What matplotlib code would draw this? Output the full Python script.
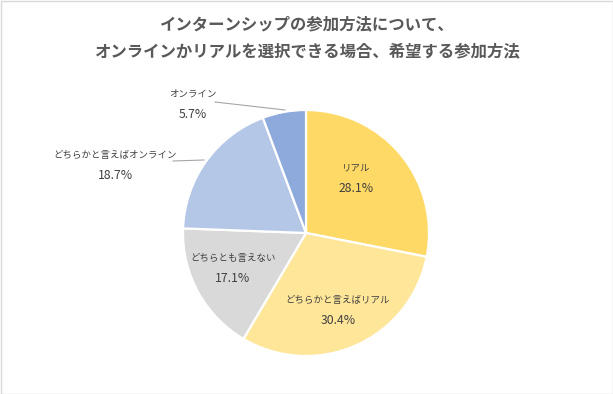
import matplotlib
matplotlib.use("Agg")
import matplotlib.pyplot as plt
from matplotlib.patches import Rectangle

plt.rcParams['font.family'] = ['Noto Sans CJK JP', 'DejaVu Sans']

# data
labels = ["リアル", "どちらかと言えばリアル", "どちらとも言えない", "どちらかと言えばオンライン", "オンライン"]
values = [28.1, 30.4, 17.1, 18.7, 5.7]
colors = ["#FFD966", "#FFE699", "#D9D9D9", "#B4C7E7", "#8EA9DB"]
title_lines = ["インターンシップの参加方法について、", "オンラインかリアルを選択できる場合、希望する参加方法"]

W, H = 613, 394
fig = plt.figure(figsize=(W / 100, H / 100), dpi=100)
ax = fig.add_axes([0, 0, 1, 1])

# pixel helper (y from top)
def py(y):
    return H - y

cx, cy, rad = 306, 233, 123
ax.pie(values, colors=colors, startangle=90, counterclock=False,
       center=(cx, py(cy)), radius=rad, frame=True,
       wedgeprops=dict(edgecolor="white", linewidth=1.6))
ax.set_xlim(0, W)
ax.set_ylim(0, H)
ax.axis("off")

# label positions (name, pct) in pixels
label_pos = [
    ((356, 168), (356, 188)),
    ((338, 300), (338, 320)),
    ((233, 258), (233, 278)),
    ((115, 155), (115, 175)),
    ((193, 94), (193, 114)),
]
txt_color = "#404040"
for lab, val, (p1, p2) in zip(labels, values, label_pos):
    ax.text(p1[0], py(p1[1]), lab, ha="center", va="center", fontsize=6.8, color=txt_color)
    ax.text(p2[0], py(p2[1]), f"{val:.1f}%", ha="center", va="center", fontsize=8.8, color=txt_color)

# leader lines for outside labels
ax.plot([173, 204], [py(161), py(160)], color="#A6A6A6", lw=0.8)
ax.plot([215, 285], [py(102), py(110)], color="#A6A6A6", lw=0.8)

# title
ax.text(W / 2, py(24), title_lines[0], ha="center", va="center", fontsize=11.8, fontweight="bold", color="#595959")
ax.text(W / 2, py(52), title_lines[1], ha="center", va="center", fontsize=11.8, fontweight="bold", color="#595959")

# border
ax.add_patch(Rectangle((0.5, 0.5), W - 1, H - 1, fill=False, edgecolor="#D9D9D9", lw=1))

fig.savefig("out.png", dpi=100)
